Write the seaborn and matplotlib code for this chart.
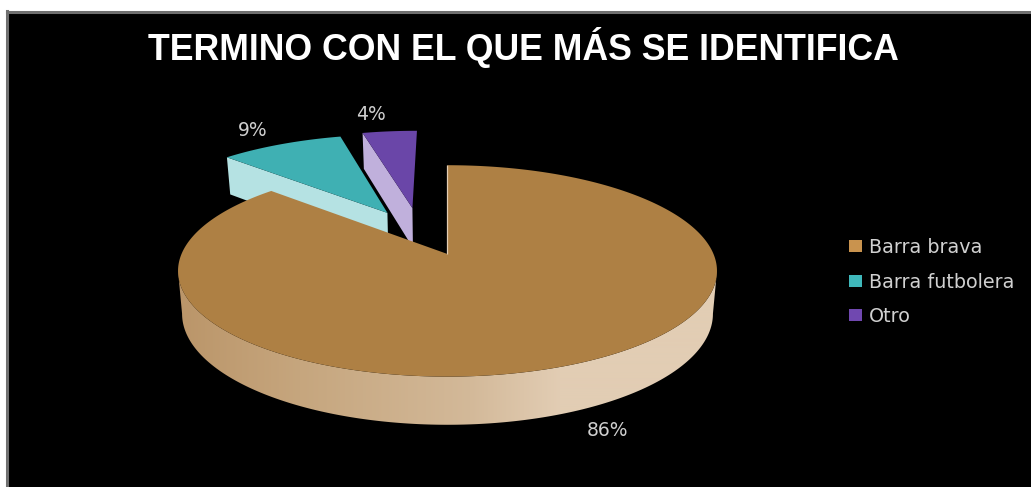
import numpy as np
import matplotlib
matplotlib.use("Agg")
import matplotlib.pyplot as plt
from matplotlib.colors import to_rgb
from matplotlib.patches import Patch, Polygon
import seaborn as sns

title = "TERMINO CON EL QUE MÁS SE IDENTIFICA"
categories = ["Barra brava", "Barra futbolera", "Otro"]
percentages = [86, 9, 4]

top_colors = ["#AE8044", "#3FB0B3", "#6A46A8"]
side_colors = ["#E2CDB4", "#B5E2E3", "#C0B0DC"]
legend_colors = ["#C9934E", "#3FB8BB", "#7048B0"]

sns.set_theme(style="dark", rc={"axes.facecolor": "black", "figure.facecolor": "white"})

W, H = 1031, 487
fig = plt.figure(figsize=(W / 100, H / 100), dpi=100)
ax = fig.add_axes([6.5 / W, 0, (W - 6.5) / W, (H - 11.5) / H])
ax.set_xticks([])
ax.set_yticks([])
ax.grid(False)
for name in ("right", "bottom"):
    ax.spines[name].set_visible(False)
for name in ("top", "left"):
    ax.spines[name].set_color("#707070")
    ax.spines[name].set_linewidth(2.2)

# Perspective view of the pie's ground plane (u to the right, v away from the viewer).
ORIGIN_X, ORIGIN_Y = 447.5, 254.0
SCALE_X, SCALE_Y, TILT = 266.0, 103.0, 0.16
THICKNESS, BASE_SHRINK = 42.0, 0.985


def project(u, v, base=False):
    u, v = np.asarray(u, float), np.asarray(v, float)
    depth = 1 + TILT * v
    shrink = BASE_SHRINK if base else 1.0
    x = ORIGIN_X + shrink * SCALE_X * u / depth
    y = ORIGIN_Y - shrink * SCALE_Y * v / depth + (THICKNESS / depth if base else 0)
    return x, y


# Slice sweep runs clockwise from twelve o'clock.
shares = np.array(percentages, float) / sum(percentages)
edges = np.concatenate([[0], np.cumsum(shares)]) * 2 * np.pi


def rim(start, stop, offset=(0.0, 0.0), n=160):
    phi = np.linspace(start, stop, n)
    return offset[0] + np.sin(phi), offset[1] + np.cos(phi)


def explode(distance, direction_deg):
    a = np.radians(direction_deg)
    return -distance * np.sin(a), distance * np.cos(a)


def draw_detached(i, offset):
    start, stop = edges[i], edges[i + 1]
    # Cut face along the edge that looks towards the viewer.
    eu, ev = offset[0] + np.sin(start), offset[1] + np.cos(start)
    tx, ty = project([offset[0], eu], [offset[1], ev])
    bx, by = project([offset[0], eu], [offset[1], ev], base=True)
    ax.fill(np.r_[tx, bx[::-1]], np.r_[ty, by[::-1]], color=side_colors[i], lw=0)
    ru, rv = rim(start, stop, offset)
    x, y = project(np.r_[offset[0], ru], np.r_[offset[1], rv])
    ax.fill(x, y, color=top_colors[i], lw=0)


draw_detached(2, explode(0.50, 16.5))
draw_detached(1, explode(0.49, 29.5))

# Main slice: wall shaded left to right, then its flat top.
wall_stops = [183, 300, 470, 560, 720]
wall_colors = np.array([to_rgb(c) for c in ["#BB966A", "#C6A67E", "#D3B999", "#E2CDB4", "#E2CDB4"]])
ramp_x = np.arange(170, 730)
ramp = np.stack([np.interp(ramp_x, wall_stops, wall_colors[:, k]) for k in range(3)], axis=-1)[None, :, :]

# The wall is visible between the two silhouette points of the rim.
tangent = np.arccos(-TILT)
ru, rv = rim(tangent, 2 * np.pi - tangent, n=400)
tx, ty = project(ru, rv)
bx, by = project(ru, rv, base=True)
wall = Polygon(np.c_[np.r_[tx, bx[::-1]], np.r_[ty, by[::-1]]], closed=True, transform=ax.transData,
               fc="none", ec="none")
ax.add_patch(wall)
gradient = ax.imshow(ramp, extent=(170, 730, 440, 200), aspect="auto", interpolation="bilinear")
gradient.set_clip_path(wall)

ru, rv = rim(edges[0], edges[1], n=500)
x, y = project(np.r_[0, ru], np.r_[0, rv])
ax.fill(x, y, color=top_colors[0], lw=0)
nx, ny = project([0, 0], [0, 1])
ax.plot(nx - 0.5, ny, color=side_colors[0], lw=0.9, solid_capstyle="butt")

ax.set_xlim(6.5, W)
ax.set_ylim(H, 11.5)

ax.text(523.5, 60.5, title, color="white", family="Liberation Sans", weight="bold",
        fontsize=25.7, ha="center", va="baseline")

label_font = dict(color="#CFCFCF", family="DejaVu Sans", fontsize=13.5, ha="center", va="center")
for value, px, py in zip(percentages, (607, 253, 371), (431, 131, 115)):
    ax.text(px, py, f"{value}%", **label_font)

handles = [Patch(facecolor=c, edgecolor="none") for c in legend_colors]
ax.legend(handles, categories, loc="center left",
          bbox_to_anchor=((849 - 6.5) / (W - 6.5), 1 - (282 - 11.5) / (H - 11.5)),
          frameon=False, fontsize=13.8, labelcolor="#D0D0D0", handlelength=0.68, handleheight=0.57,
          handletextpad=0.36, labelspacing=0.8, borderaxespad=0, borderpad=0)

fig.savefig("out.png", dpi=100, facecolor="white")
